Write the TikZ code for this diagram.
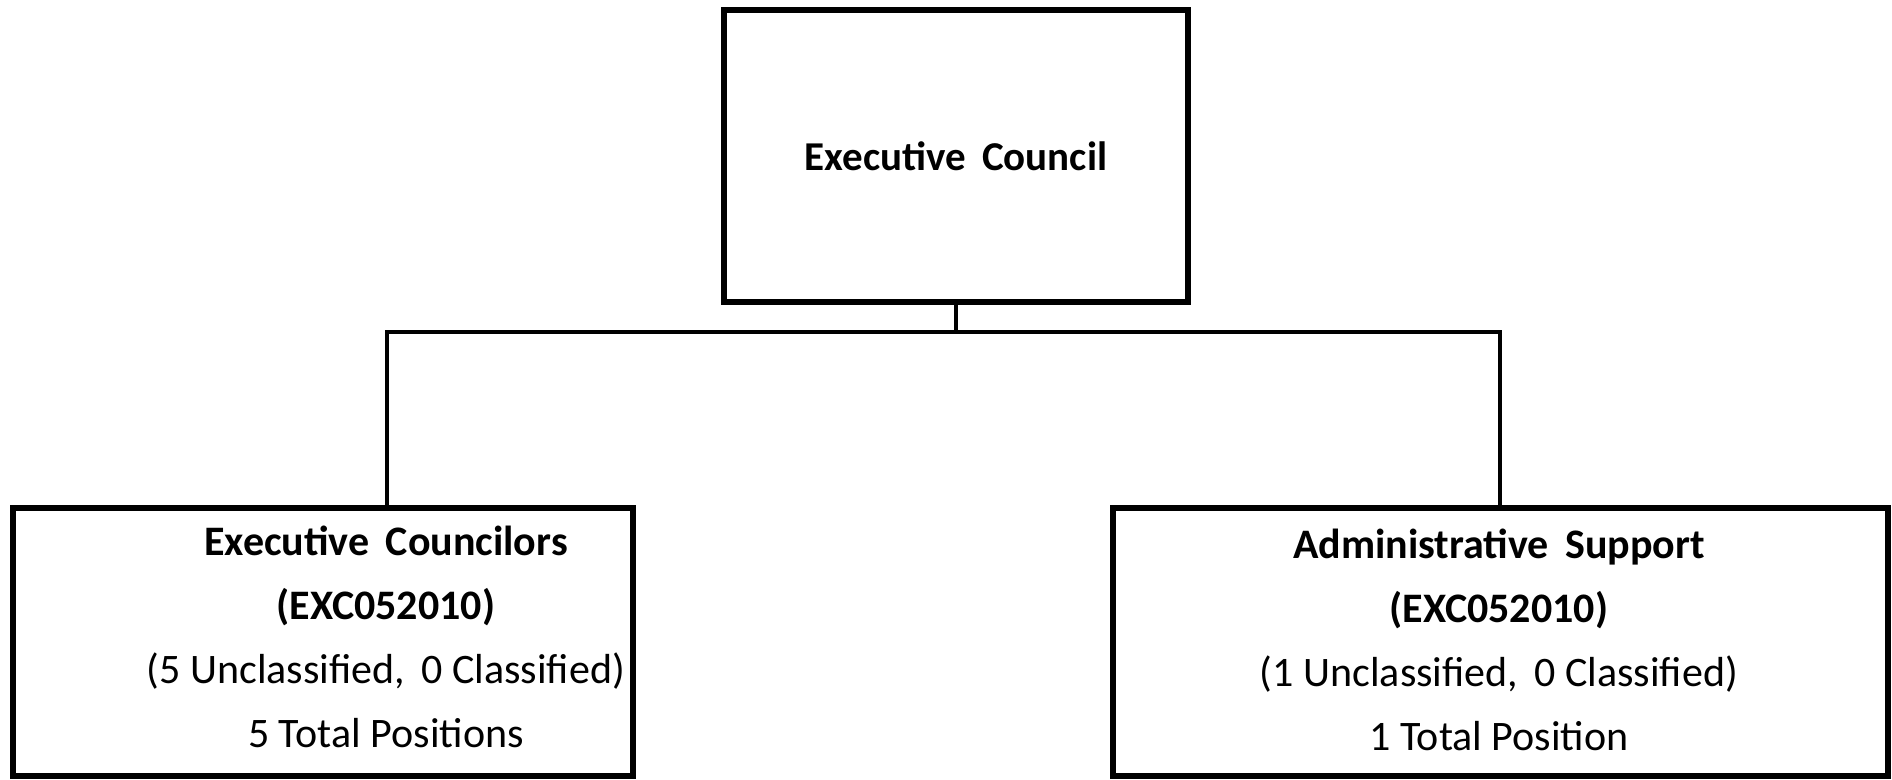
\documentclass[tikz,border=0pt]{standalone}
\usepackage{fontspec}
\setmainfont{Carlito}
\begin{document}
\begin{tikzpicture}[x=0.5pt,y=-0.5pt,
  unitbox/.style={draw=black,line width=2.6pt,inner sep=0pt,rectangle},
  link/.style={draw=black,line width=2.4pt},
  unittext/.style={align=center,inner sep=0pt,font=\fontsize{21}{32}\selectfont}]
  \useasboundingbox (0,0) rectangle (1892,780);
  % head of the unit
  \node[unitbox,minimum width=232pt,minimum height=146pt,
        font=\fontsize{20.5}{24}\selectfont\bfseries] (council) at (956,156) {Executive\, Council};
  % the two sub-units
  \node[unitbox,minimum width=310pt,minimum height=134pt] (left) at (323,642) {};
  \node[unitbox,minimum width=387.5pt,minimum height=134pt] (right) at (1500.5,642) {};
  \node[unittext] (lefttext) at (386,639)
    {\strut\textbf{Executive\, Councilors}\\ \strut\textbf{(EXC052010)}\\
     \strut(5 Unclassified,\, 0 Classified)\\ \strut 5 Total Positions};
  \node[unittext] (righttext) at (1499,642)
    {\strut\textbf{Administrative\, Support}\\ \strut\textbf{(EXC052010)}\\
     \strut(1 Unclassified,\, 0 Classified)\\ \strut 1 Total Position};
  % connectors
  \coordinate (busL) at (387,332);
  \coordinate (busR) at (1500,332);
  \draw[link] (council.south) -- (council.south |- busL);
  \draw[link] (busL |- left.north) -- (busL) -- (busR) -- (busR |- right.north);
\end{tikzpicture}
\end{document}
